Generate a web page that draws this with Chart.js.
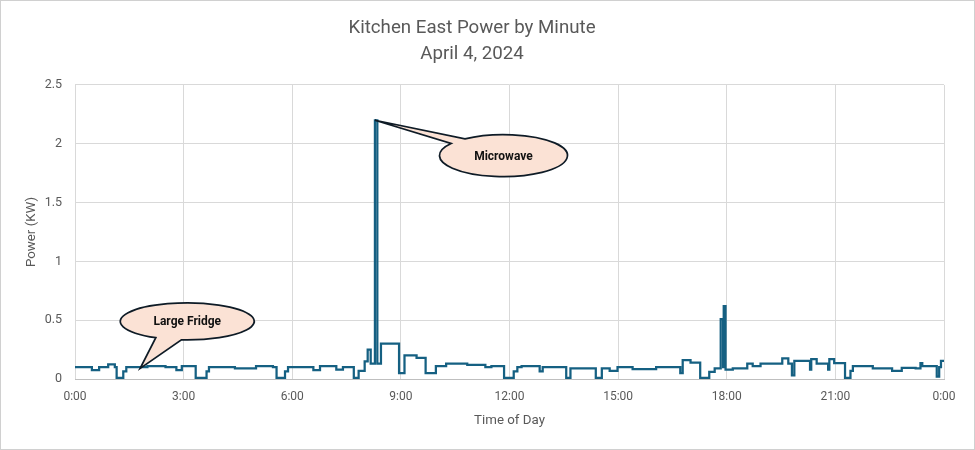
<!DOCTYPE html>
<html>
<head>
<meta charset="utf-8">
<title>Kitchen East Power by Minute</title>
<script src="https://cdn.jsdelivr.net/npm/chart.js@4.4.1/dist/chart.umd.min.js"></script>
<style>
    html, body { margin: 0; padding: 0; background: #ffffff; }
    #wrap { width: 975px; height: 450px; }
</style>
</head>
<body>
<div id="wrap"><canvas id="powerChart" width="975" height="450"></canvas></div>
<script>
// ======================================================
// DATA (minute of day where the reading changes, kW)
// ======================================================

const stepMinutes = [
    0, 28, 40, 55, 66, 69, 80, 85, 120, 150, 168, 177, 200, 218, 222, 265,
    300, 328, 334, 348, 353, 395, 406, 433, 444, 462, 470, 480, 485, 490,
    497, 501, 507, 537, 546, 566, 581, 598, 615, 650, 680, 690, 711, 727,
    733, 740, 770, 775, 814, 821, 863, 873, 886, 899, 924, 963, 1003, 1007,
    1020, 1036, 1051, 1060, 1070, 1074, 1075, 1078, 1090, 1114, 1123, 1136,
    1172, 1182, 1188, 1192, 1218, 1220, 1229, 1248, 1250, 1258, 1276, 1285,
    1289, 1322, 1354, 1370, 1393, 1401, 1404, 1428, 1432, 1435, 1440
];

const powerKW = [
    0.10, 0.075, 0.10, 0.125, 0.10, 0.01, 0.065, 0.10, 0.11, 0.10, 0.075, 0.11, 0.01, 0.065, 0.10, 0.09,
    0.11, 0.10, 0.01, 0.065, 0.10, 0.075, 0.11, 0.08, 0.10, 0.01, 0.07, 0.15, 0.25, 0.13,
    2.2, 0.13, 0.30, 0.05, 0.20, 0.18, 0.05, 0.11, 0.13, 0.12, 0.10, 0.11, 0.01, 0.065,
    0.10, 0.11, 0.065, 0.10, 0.01, 0.09, 0.01, 0.09, 0.07, 0.10, 0.085, 0.10, 0.05, 0.16,
    0.14, 0.01, 0.06, 0.09, 0.51, 0.10, 0.62, 0.08, 0.09, 0.13, 0.11, 0.13,
    0.175, 0.13, 0.03, 0.155, 0.08, 0.17, 0.13, 0.08, 0.17, 0.135, 0.01, 0.07,
    0.11, 0.09, 0.07, 0.095, 0.09, 0.135, 0.11, 0.02, 0.10, 0.155, 0.155
];

const xTickMinutes = [0, 180, 360, 540, 720, 900, 1080, 1260, 1440];
const xTickLabels = ["0:00", "3:00", "6:00", "9:00", "12:00", "15:00", "18:00", "21:00", "0:00"];

const yTickValues = [0, 0.5, 1, 1.5, 2, 2.5];
const yTickLabels = ["0", "0.5", "1", "1.5", "2", "2.5"];

const titleLines = ["Kitchen East Power by Minute", "April 4, 2024"];

// callout shapes: tip and centre in data units
const callouts = [
    { text: "Microwave", tipX: 497, tipY: 2.2, cx: 710, cy: 1.9, rx: 64, ry: 21, a1: 215, a2: 233 },
    { text: "Large Fridge", tipX: 108, tipY: 0.09, cx: 186, cy: 0.49, rx: 67, ry: 18.5, a1: 95, a2: 118 }
];

// ======================================================
// STYLE
// ======================================================

const FONT = "Roboto, 'Liberation Sans', sans-serif";
const TEXT_GREY = "#595959";
const GRID_GREY = "#d9d9d9";

// ======================================================
// PLUGINS
// ======================================================

const framePlugin = {
    id: "frame",
    beforeDraw(chart) {
        const ctx = chart.ctx;
        ctx.save();
        ctx.fillStyle = "#ffffff";
        ctx.fillRect(0, 0, chart.width, chart.height);
        ctx.strokeStyle = "#d0d0d0";
        ctx.lineWidth = 1;
        ctx.strokeRect(0.5, 0.5, chart.width - 1, chart.height - 1);
        ctx.restore();
    }
};

const calloutPlugin = {
    id: "callouts",
    afterDatasetsDraw(chart) {
        const ctx = chart.ctx;
        const xs = chart.scales.x;
        const ys = chart.scales.y;

        callouts.forEach(c => {
            const tx = xs.getPixelForValue(c.tipX);
            const ty = ys.getPixelForValue(c.tipY);
            const cx = xs.getPixelForValue(c.cx);
            const cy = ys.getPixelForValue(c.cy);
            const a1 = c.a1 * Math.PI / 180;
            const a2 = c.a2 * Math.PI / 180;

            ctx.save();
            ctx.beginPath();
            ctx.ellipse(cx, cy, c.rx, c.ry, 0, a2, a1 + Math.PI * 2, false);
            ctx.lineTo(tx, ty);
            ctx.closePath();
            ctx.fillStyle = "#fbe2d5";
            ctx.fill();
            ctx.lineWidth = 1.75;
            ctx.lineJoin = "miter";
            ctx.strokeStyle = "#0e1b26";
            ctx.stroke();

            ctx.fillStyle = "#111111";
            ctx.font = "bold 12px " + FONT;
            ctx.textAlign = "center";
            ctx.textBaseline = "middle";
            ctx.fillText(c.text, cx, cy + 1);
            ctx.restore();
        });
    }
};

// ======================================================
// CHART
// ======================================================

const points = stepMinutes.map((m, i) => ({ x: m, y: powerKW[i] }));

new Chart(document.getElementById("powerChart"), {
    type: "line",
    data: {
        datasets: [{
            label: "Power (KW)",
            data: points,
            borderColor: "#156082",
            borderWidth: 2.25,
            pointRadius: 0,
            stepped: "before",
            fill: false
        }]
    },
    options: {
        responsive: false,
        devicePixelRatio: 1,
        animation: false,
        layout: { padding: { left: 0, right: 31, top: 0, bottom: 0 } },
        plugins: {
            legend: { display: false },
            tooltip: { enabled: false },
            title: {
                display: true,
                text: titleLines,
                color: TEXT_GREY,
                font: { family: FONT, size: 18.7, weight: "normal", lineHeight: 1.39 },
                padding: { top: 15, bottom: 18 }
            }
        },
        scales: {
            x: {
                type: "linear",
                min: 0,
                max: 1440,
                afterBuildTicks(axis) {
                    axis.ticks = xTickMinutes.map(v => ({ value: v }));
                },
                afterFit(axis) {
                    axis.height = 71;
                },
                ticks: {
                    color: TEXT_GREY,
                    font: { family: FONT, size: 12 },
                    padding: 11,
                    maxRotation: 0,
                    autoSkip: false,
                    callback: (v) => xTickLabels[xTickMinutes.indexOf(v)]
                },
                grid: { color: GRID_GREY, drawTicks: false },
                border: { display: true, color: "#bfbfbf" },
                title: {
                    display: true,
                    text: "Time of Day",
                    color: TEXT_GREY,
                    font: { family: FONT, size: 13.3 },
                    padding: { top: 0, bottom: 21 }
                }
            },
            y: {
                min: 0,
                max: 2.5,
                afterBuildTicks(axis) {
                    axis.ticks = yTickValues.map(v => ({ value: v }));
                },
                afterFit(axis) {
                    axis.width = 75;
                },
                ticks: {
                    color: TEXT_GREY,
                    font: { family: FONT, size: 12.5 },
                    padding: 13,
                    callback: (v) => yTickLabels[yTickValues.indexOf(v)]
                },
                grid: { color: GRID_GREY, drawTicks: false },
                border: { display: false },
                title: {
                    display: true,
                    text: "Power (KW)",
                    color: TEXT_GREY,
                    font: { family: FONT, size: 13.3 },
                    padding: { top: 24, bottom: 0 }
                }
            }
        }
    },
    plugins: [framePlugin, calloutPlugin]
});
</script>
</body>
</html>
